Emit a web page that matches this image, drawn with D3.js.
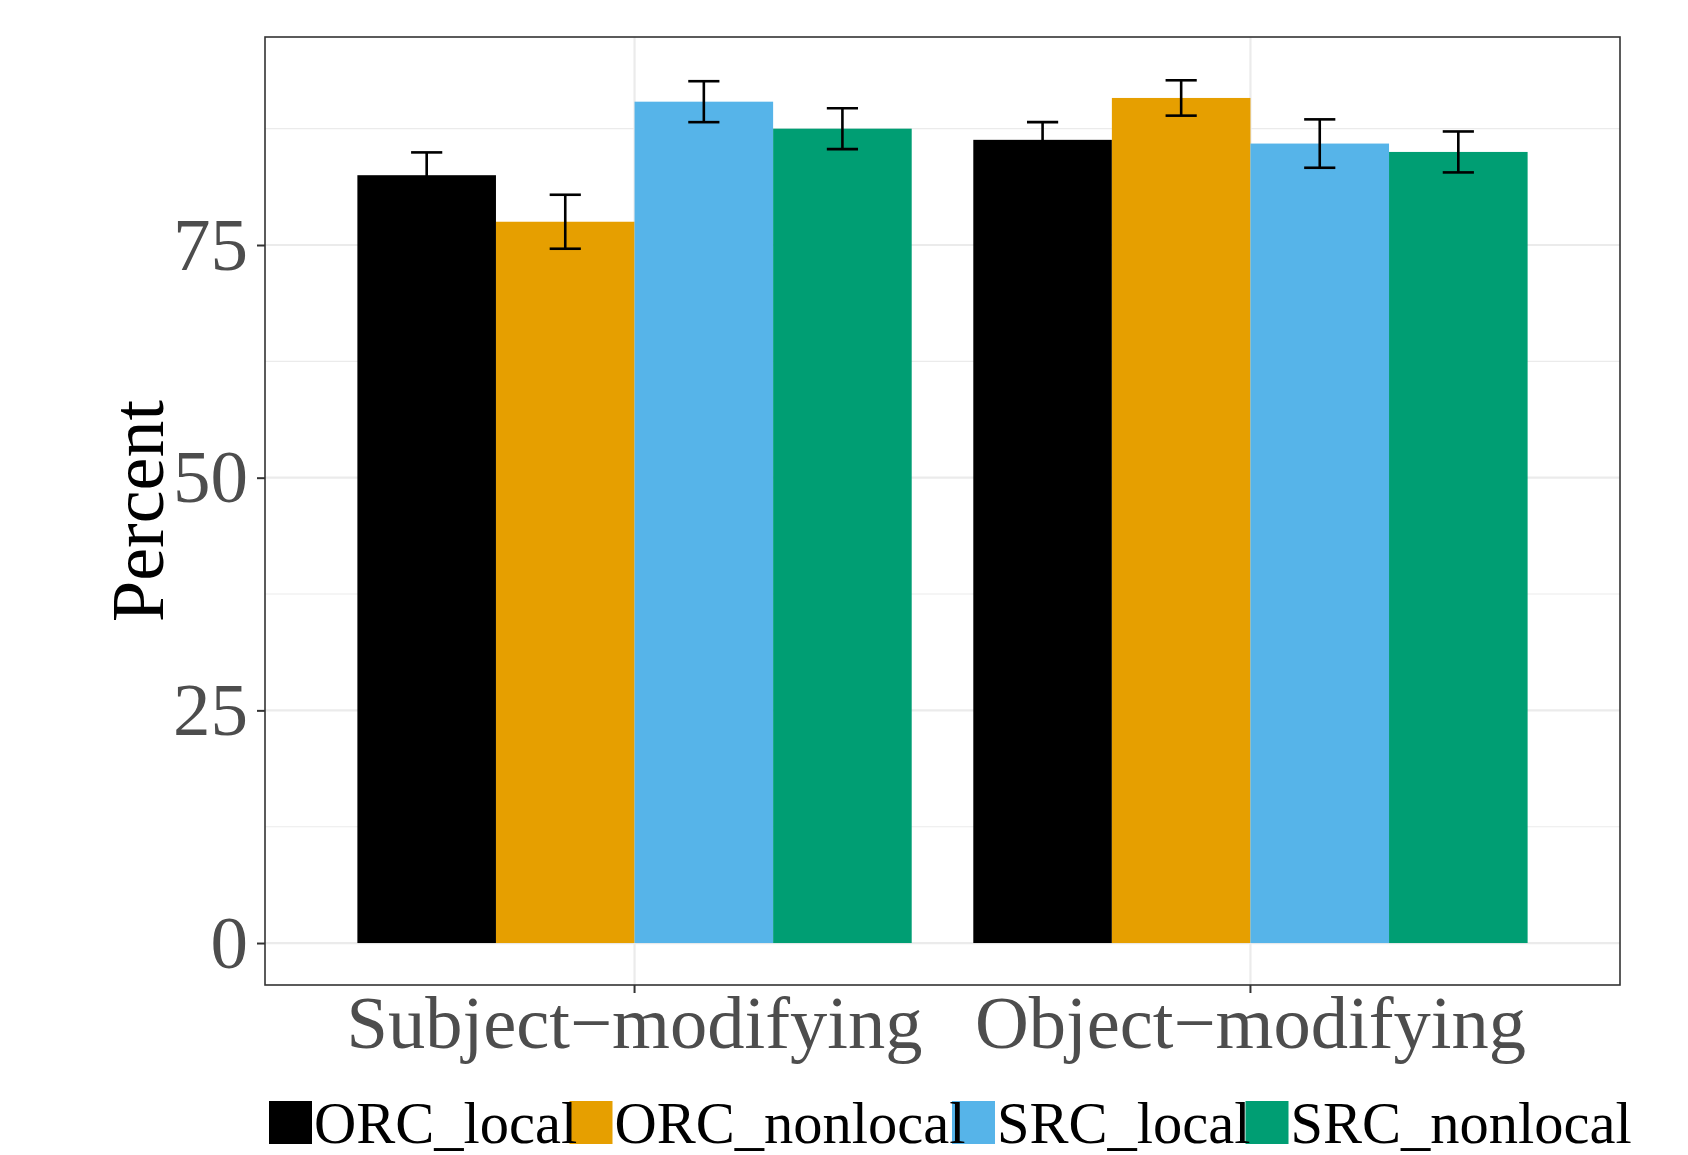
<!DOCTYPE html>
<html>
<head>
<meta charset="utf-8">
<script src="https://cdn.jsdelivr.net/npm/d3@7"></script>
<style>
  body { margin: 0; background: #fff; }
  text { font-family: "Liberation Serif", "Times New Roman", serif; }
</style>
</head>
<body>
<div id="chart"></div>
<script>
// data
var categories = ["Subject\u2212modifying", "Object\u2212modifying"];
var conditions = ["ORC_local", "ORC_nonlocal", "SRC_local", "SRC_nonlocal"];
var subjectValues = [82.5, 77.5, 90.4, 87.5];
var subjectErrors = [2.45, 2.9, 2.2, 2.2];
var objectValues = [86.3, 90.8, 85.9, 85.0];
var objectErrors = [1.9, 1.9, 2.6, 2.2];
var yTicks = [0, 25, 50, 75];
var yMinor = [12.5, 37.5, 62.5, 87.5];

var colors = ["#000000", "#E69F00", "#56B4E9", "#009E73"];

var W = 1688, H = 1155;
var pLeft = 265, pRight = 1620, pTop = 37, pBottom = 985;

var rows = [];
[subjectValues, objectValues].forEach(function(vals, i) {
  var errs = i === 0 ? subjectErrors : objectErrors;
  conditions.forEach(function(c, j) {
    rows.push({cat: categories[i], cond: c, value: vals[j], err: errs[j]});
  });
});

var svg = d3.select("#chart")
    .append("svg")
    .attr("width", W)
    .attr("height", H);

svg.append("rect").attr("width", W).attr("height", H).attr("fill", "#fff");

var x0 = d3.scaleBand()
    .domain(categories)
    .range([pLeft, pRight])
    .paddingInner(0.1)
    .paddingOuter(0.15);

var x1 = d3.scaleBand()
    .domain(conditions)
    .range([0, x0.bandwidth()]);

var y = d3.scaleLinear()
    .domain([-4.51, 97.35])
    .range([pBottom, pTop]);

var color = d3.scaleOrdinal().domain(conditions).range(colors);

// grid
var grid = svg.append("g");
grid.selectAll(".minor")
    .data(yMinor)
    .enter().append("line")
    .attr("x1", pLeft).attr("x2", pRight)
    .attr("y1", d => y(d)).attr("y2", d => y(d))
    .attr("stroke", "#ebebeb")
    .attr("stroke-width", 1.1);
grid.selectAll(".major")
    .data(yTicks)
    .enter().append("line")
    .attr("x1", pLeft).attr("x2", pRight)
    .attr("y1", d => y(d)).attr("y2", d => y(d))
    .attr("stroke", "#ebebeb")
    .attr("stroke-width", 2.2);
grid.selectAll(".vmajor")
    .data(categories)
    .enter().append("line")
    .attr("x1", d => x0(d) + x0.bandwidth() / 2)
    .attr("x2", d => x0(d) + x0.bandwidth() / 2)
    .attr("y1", pTop).attr("y2", pBottom)
    .attr("stroke", "#ebebeb")
    .attr("stroke-width", 2.2);

// bars
svg.append("g").selectAll("rect")
    .data(rows)
    .enter().append("rect")
    .attr("x", d => x0(d.cat) + x1(d.cond))
    .attr("width", x1.bandwidth())
    .attr("y", d => y(d.value))
    .attr("height", d => y(0) - y(d.value))
    .attr("fill", d => color(d.cond));

// error bars
var capW = x1.bandwidth() * 0.225;
var eb = svg.append("g")
    .attr("stroke", "#000")
    .attr("stroke-width", 2.6)
    .attr("fill", "none");
rows.forEach(function(d) {
  var cx = x0(d.cat) + x1(d.cond) + x1.bandwidth() / 2;
  eb.append("line")
      .attr("x1", cx).attr("x2", cx)
      .attr("y1", y(d.value + d.err)).attr("y2", y(d.value - d.err));
  eb.append("line")
      .attr("x1", cx - capW / 2).attr("x2", cx + capW / 2)
      .attr("y1", y(d.value + d.err)).attr("y2", y(d.value + d.err));
  eb.append("line")
      .attr("x1", cx - capW / 2).attr("x2", cx + capW / 2)
      .attr("y1", y(d.value - d.err)).attr("y2", y(d.value - d.err));
});

// panel border
svg.append("rect")
    .attr("x", pLeft).attr("y", pTop)
    .attr("width", pRight - pLeft).attr("height", pBottom - pTop)
    .attr("fill", "none")
    .attr("stroke", "#333333")
    .attr("stroke-width", 1.6);

// axes
var yAxis = svg.append("g")
    .attr("transform", "translate(" + pLeft + ",0)")
    .call(d3.axisLeft(y).tickValues(yTicks).tickSize(8).tickPadding(9));
yAxis.select(".domain").remove();
yAxis.selectAll("line").attr("stroke", "#333333").attr("stroke-width", 2);
yAxis.selectAll("text")
    .attr("fill", "#4d4d4d")
    .style("font-size", "75px")
    .style("font-family", "'Liberation Serif', serif");

var xAxis = svg.append("g")
    .attr("transform", "translate(0," + pBottom + ")")
    .call(d3.axisBottom(x0).tickSize(8).tickPadding(2));
xAxis.select(".domain").remove();
xAxis.selectAll("line").attr("stroke", "#333333").attr("stroke-width", 2);
xAxis.selectAll("text")
    .attr("fill", "#4d4d4d")
    .style("font-size", "74.5px")
    .style("font-family", "'Liberation Serif', serif");

svg.append("text")
    .attr("transform", "translate(163," + ((pTop + pBottom) / 2) + ") rotate(-90)")
    .attr("text-anchor", "middle")
    .style("font-size", "74px")
    .attr("fill", "#000")
    .text("Percent");

// legend
var legendX = [269, 569.5, 952, 1245.5];
var keySize = 43, keyY = 1101;
var legend = svg.append("g");
legend.selectAll("rect")
    .data(conditions)
    .enter().append("rect")
    .attr("x", (d, i) => legendX[i])
    .attr("y", keyY)
    .attr("width", keySize)
    .attr("height", keySize)
    .attr("fill", d => color(d));
legend.selectAll("text")
    .data(conditions)
    .enter().append("text")
    .attr("x", (d, i) => legendX[i] + keySize + 2)
    .attr("y", 1143)
    .style("font-size", "58.5px")
    .attr("fill", "#000")
    .text(d => d);
</script>
</body>
</html>
